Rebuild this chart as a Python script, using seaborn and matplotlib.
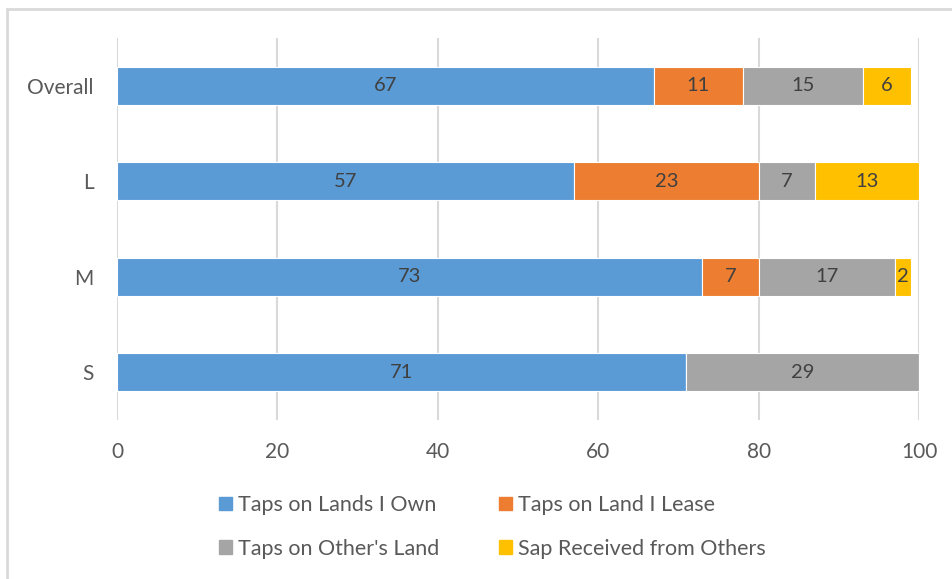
import matplotlib
matplotlib.use("Agg")
import matplotlib.pyplot as plt
import matplotlib.patches as mpatches
import seaborn as sns
import numpy as np
import pandas as pd

categories = ["Overall", "L", "M", "S"]
series_names = ["Taps on Lands I Own", "Taps on Land I Lease",
                "Taps on Other's Land", "Sap Received from Others"]
own = [67, 57, 73, 71]
lease = [11, 23, 7, 0]
other = [15, 7, 17, 29]
sap = [6, 13, 2, 0]
x_ticks = [0, 20, 40, 60, 80, 100]

colors = ["#5B9BD5", "#ED7D31", "#A5A5A5", "#FFC000"]

sns.set_theme(style="white")
plt.rcParams["font.family"] = ["Lato", "DejaVu Sans"]

FS = 15
DFS = 14.5
LFS = 15.5
W, H = 952, 579
fig = plt.figure(figsize=(W / 100, H / 100), dpi=100)
ax = fig.add_axes([117 / W, 1 - 420 / H, (919 - 117) / W, (420 - 38) / H])

series = [own, lease, other, sap]
left = np.zeros(len(categories))
for name, vals, col in zip(series_names, series, colors):
    df = pd.DataFrame({"cat": categories, "val": vals})
    sns.barplot(data=df, x="val", y="cat", orient="h", order=categories,
                color=col, left=left.copy(), width=0.4, ax=ax,
                edgecolor="white", linewidth=0.8, label=name, saturation=1)
    for i, v in enumerate(vals):
        if v > 0:
            ax.text(left[i] + v / 2, i, str(v), ha="center", va="center",
                    fontsize=DFS, color="#404040")
    left += np.array(vals)

ax.set_xlim(0, 100)
ax.set_ylim(3.5, -0.5)
ax.set_xticks(x_ticks)
ax.set_xticklabels([str(t) for t in x_ticks])
ax.set_xlabel("")
ax.set_ylabel("")
ax.grid(axis="x", color="#D9D9D9", linewidth=1.5)
ax.set_axisbelow(True)
for s in ax.spines.values():
    s.set_visible(False)
ax.tick_params(axis="both", length=0, labelsize=FS, colors="#595959")
ax.tick_params(axis="y", pad=17)
ax.tick_params(axis="x", pad=16)
if ax.get_legend() is not None:
    ax.get_legend().remove()

handles = [mpatches.Patch(color=c, label=n) for c, n in zip(colors, series_names)]
order = [0, 2, 1, 3]
fig.legend(handles=[handles[i] for i in order], loc="center",
           bbox_to_anchor=(492.5 / W, 1 - 527 / H),
           ncol=2, frameon=False, fontsize=LFS, labelcolor="#595959",
           handlelength=0.6, handleheight=0.6, handletextpad=0.28,
           columnspacing=2.8, labelspacing=1.1)

border = mpatches.Rectangle((7 / W, -0.1), 1.2, 1 - 9 / H + 0.1,
                            transform=fig.transFigure, fill=False,
                            edgecolor="#D9D9D9", linewidth=2)
fig.patches.append(border)

fig.savefig("out.png", dpi=100)
